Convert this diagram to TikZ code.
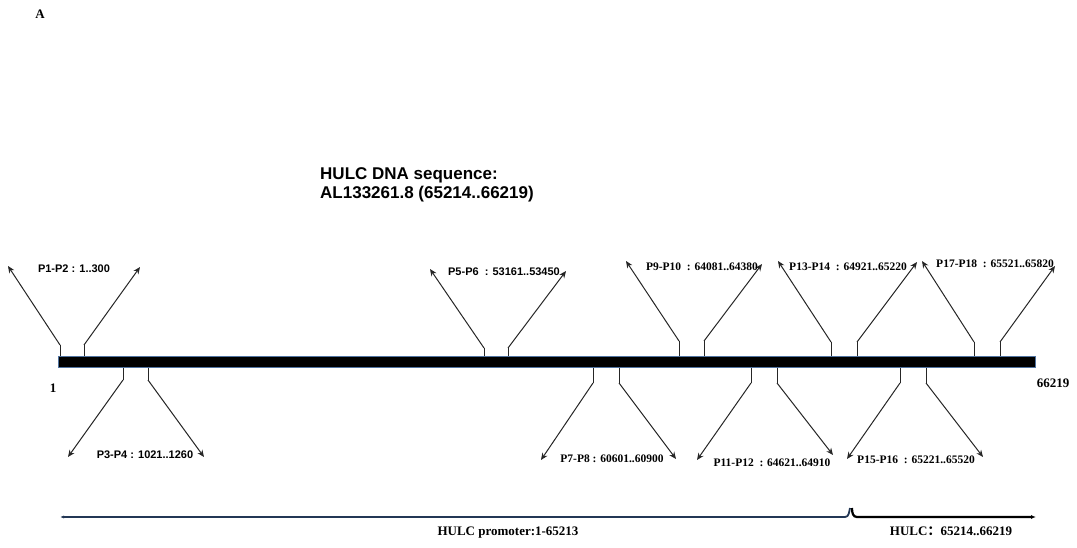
\documentclass[tikz,border=0pt]{standalone}
\usepackage{fontspec}
\setmainfont{Liberation Serif}
\setsansfont{Liberation Sans}
\newfontfamily\cjk{Noto Sans CJK SC}
\usetikzlibrary{arrows.meta}
\definecolor{barblue}{RGB}{80,115,160}
\definecolor{brnavy}{RGB}{35,55,85}
\tikzset{
  probe/.style={draw=black!85, line width=1pt, -{Stealth[length=7pt,width=6pt]}},
  tickln/.style={draw=black!85, line width=1pt},
  slab/.style={font=\sffamily\bfseries\fontsize{11}{13}\selectfont, inner sep=0pt},
  tlab/.style={font=\bfseries\fontsize{11.5}{13}\selectfont, inner sep=0pt},
  endlab/.style={font=\bfseries\fontsize{13}{15}\selectfont, inner sep=0pt},
}
\begin{document}
\begin{tikzpicture}[x=1pt,y=-1pt]
\useasboundingbox (0,0) rectangle (1077,548);
% panel letter
\node[font=\bfseries\fontsize{13}{15}\selectfont, inner sep=0pt] (A) at (40,14) {A};
% title
\node[font=\sffamily\bfseries\fontsize{17}{19}\selectfont, align=left, anchor=north west, inner sep=0pt] (title) at (320,167)
  {HULC DNA sequence:\\AL133261.8 (65214..66219)};
% bar
\node[draw=barblue, fill=black, line width=1.8pt, minimum width=977pt, minimum height=11pt, inner sep=0pt] (bar) at (547,362) {};
\node[endlab] (one) at (53,388) {1};
\node[endlab] (end) at (1053,383) {66219};
% ---- upward probes
% P1-P2
\coordinate (b1) at (60,356); \coordinate (k1) at (60,345); \coordinate (a1) at (8,266);
\coordinate (b2) at (84,356); \coordinate (k2) at (84,345); \coordinate (a2) at (140,267);
\draw[tickln] (b1) -- (k1); \draw[probe] (k1) -- (a1);
\draw[tickln] (b2) -- (k2); \draw[probe] (k2) -- (a2);
\node[slab] (l12) at (74,269) {P1-P2 : 1..300};
% P5-P6
\coordinate (b5) at (484,356); \coordinate (k5) at (484,348); \coordinate (a5) at (430,269);
\coordinate (b6) at (508,356); \coordinate (k6) at (508,348); \coordinate (a6) at (566,271);
\draw[tickln] (b5) -- (k5); \draw[probe] (k5) -- (a5);
\draw[tickln] (b6) -- (k6); \draw[probe] (k6) -- (a6);
\node[slab] (l56) at (504,272) {P5-P6\ \ : 53161..53450};
% P9-P10
\coordinate (b9) at (679,356); \coordinate (k9) at (679,341); \coordinate (a9) at (626,261);
\coordinate (b10) at (704,356); \coordinate (k10) at (704,341); \coordinate (a10) at (762,264);
\draw[tickln] (b9) -- (k9); \draw[probe] (k9) -- (a9);
\draw[tickln] (b10) -- (k10); \draw[probe] (k10) -- (a10);
\node[tlab] (l910) at (702,267) {P9-P10\ \ : 64081..64380};
% P13-P14
\coordinate (b13) at (831,356); \coordinate (k13) at (831,342); \coordinate (a13) at (778,261);
\coordinate (b14) at (857,356); \coordinate (k14) at (857,342); \coordinate (a14) at (917,262);
\draw[tickln] (b13) -- (k13); \draw[probe] (k13) -- (a13);
\draw[tickln] (b14) -- (k14); \draw[probe] (k14) -- (a14);
\node[tlab] (l1314) at (848,267) {P13-P14\ \ : 64921..65220};
% P17-P18
\coordinate (b17) at (974,356); \coordinate (k17) at (974,342); \coordinate (a17) at (922,261);
\coordinate (b18) at (1000,356); \coordinate (k18) at (1000,342); \coordinate (a18) at (1055,266);
\draw[tickln] (b17) -- (k17); \draw[probe] (k17) -- (a17);
\draw[tickln] (b18) -- (k18); \draw[probe] (k18) -- (a18);
\node[tlab] (l1718) at (995,264) {P17-P18\ \ : 65521..65820};
% ---- downward probes
% P3-P4
\coordinate (b3) at (123,368); \coordinate (k3) at (123,380); \coordinate (a3) at (68,457);
\coordinate (b4) at (148,368); \coordinate (k4) at (148,380); \coordinate (a4) at (204,457);
\draw[tickln] (b3) -- (k3); \draw[probe] (k3) -- (a3);
\draw[tickln] (b4) -- (k4); \draw[probe] (k4) -- (a4);
\node[slab] (l34) at (145,455) {P3-P4 : 1021..1260};
% P7-P8
\coordinate (b7) at (593,368); \coordinate (k7) at (593,383); \coordinate (a7) at (541,460);
\coordinate (b8) at (619,368); \coordinate (k8) at (619,383); \coordinate (a8) at (676,459);
\draw[tickln] (b7) -- (k7); \draw[probe] (k7) -- (a7);
\draw[tickln] (b8) -- (k8); \draw[probe] (k8) -- (a8);
\node[tlab] (l78) at (612,459) {P7-P8 : 60601..60900};
% P11-P12
\coordinate (b11) at (751,368); \coordinate (k11) at (751,383); \coordinate (a11) at (697,460);
\coordinate (b12) at (777,368); \coordinate (k12) at (777,383); \coordinate (a12) at (833,455);
\draw[tickln] (b11) -- (k11); \draw[probe] (k11) -- (a11);
\draw[tickln] (b12) -- (k12); \draw[probe] (k12) -- (a12);
\node[tlab] (l1112) at (772,463) {P11-P12\ \ : 64621..64910};
% P15-P16
\coordinate (b15) at (900,368); \coordinate (k15) at (900,383); \coordinate (a15) at (847,459);
\coordinate (b16) at (926,368); \coordinate (k16) at (926,383); \coordinate (a16) at (983,457);
\draw[tickln] (b15) -- (k15); \draw[probe] (k15) -- (a15);
\draw[tickln] (b16) -- (k16); \draw[probe] (k16) -- (a16);
\node[tlab] (l1516) at (916,460) {P15-P16\ \ : 65221..65520};
% ---- bottom bracket
\coordinate (pl) at (60,517); \coordinate (pr) at (845,517); \coordinate (ph) at (850,508);
\coordinate (hl) at (852,508); \coordinate (hr) at (857,517); \coordinate (he) at (1036,517);
\draw[draw=brnavy, line width=1.8pt, {Latex[length=4pt,width=3pt]}-] (pl) -- (pr) .. controls (849,517) and (849,512) .. (ph);
\draw[draw=black, line width=2.2pt, -{Latex[length=5pt,width=4pt]}] (hl) .. controls (852,513) and (853,517) .. (hr) -- (he);
\node[font=\bfseries\fontsize{13}{15}\selectfont, inner sep=0pt] (prom) at (508,533) {HULC promoter:1-65213};
\node[font=\bfseries\fontsize{13}{15}\selectfont, inner sep=0pt] (hulc) at (951,531) {HULC{\cjk\bfseries ：}65214..66219};
\end{tikzpicture}
\end{document}
